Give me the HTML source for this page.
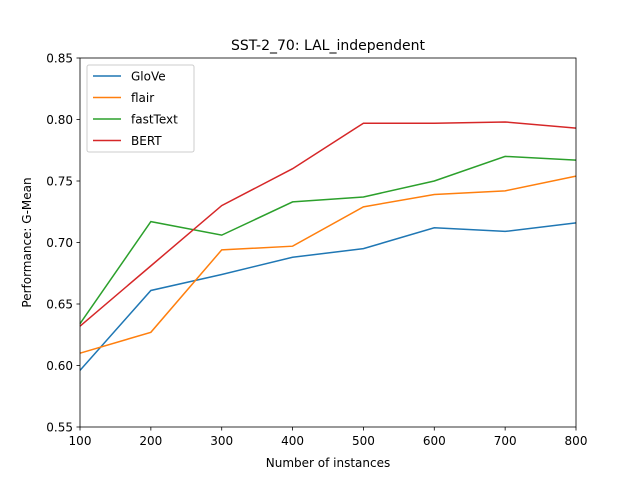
<!DOCTYPE html>
<html><head><meta charset="utf-8"><style>
body{margin:0;background:#fff}
svg{display:block;font-family:"DejaVu Sans","Liberation Sans",sans-serif}
</style></head><body>
<svg id="chart" width="640" height="480">
<rect width="640" height="480" fill="#fff"/>
<g id="plot"></g>
</svg>
<script>
const categories=[100,200,300,400,500,600,700,800];
const seriesNames=["GloVe","flair","fastText","BERT"];
const glove=[0.596,0.661,0.674,0.688,0.695,0.712,0.709,0.716];
const flair=[0.610,0.627,0.694,0.697,0.729,0.739,0.742,0.754];
const fasttext=[0.634,0.717,0.706,0.733,0.737,0.750,0.770,0.767];
const bert=[0.632,0.681,0.730,0.760,0.797,0.797,0.798,0.793];
const xTicks=[100,200,300,400,500,600,700,800];
const yTicks=[0.55,0.60,0.65,0.70,0.75,0.80,0.85];
const colors=["#1f77b4","#ff7f0e","#2ca02c","#d62728"];
const L=80,R=576,T=58,B=427;
const xs=v=>L+(v-100)/(800-100)*(R-L);
const ys=v=>B-(v-0.55)/(0.85-0.55)*(B-T);
const NS="http://www.w3.org/2000/svg";
const g=document.getElementById('plot');
function mk(tag,attrs,text){const e=document.createElementNS(NS,tag);for(const k in attrs)e.setAttribute(k,attrs[k]);if(text!==undefined)e.textContent=text;g.appendChild(e);return e;}
const data=[glove,flair,fasttext,bert];
data.forEach((s,i)=>{
 const p=mk('polyline',{points:s.map((v,j)=>xs(categories[j])+','+ys(v)).join(' '),fill:'none',stroke:colors[i],'stroke-width':1.5});
 
 
});
const fr=mk('rect',{x:L,y:T,width:R-L,height:B-T,fill:'none',stroke:'#000','stroke-width':0.8});


xTicks.forEach(v=>{
 mk('line',{x1:xs(v),x2:xs(v),y1:B,y2:B+3.5,stroke:'#000','stroke-width':0.8});
 const t=mk('text',{x:xs(v),y:B+18,'font-size':12,'text-anchor':'middle'},String(v));
 
 
});
yTicks.forEach(v=>{
 mk('line',{x1:L-3.5,x2:L,y1:ys(v),y2:ys(v),stroke:'#000','stroke-width':0.8});
 const t=mk('text',{x:L-7,y:ys(v)+4.5,'font-size':12,'text-anchor':'end'},v.toFixed(2));
 
 
});
const xt=mk('text',{x:(L+R)/2,y:467,'font-size':12,'text-anchor':'middle'},'Number of instances');


const yt=mk('text',{x:0,y:0,'font-size':12,'text-anchor':'middle',transform:'translate(31,'+((T+B)/2)+') rotate(-90)'},'Performance: G-Mean');


const ti=mk('text',{x:(L+R)/2,y:50,'font-size':14,'text-anchor':'middle'},'SST-2_70: LAL_independent');


const lg=mk('rect',{x:87,y:65,width:107,height:87,fill:'#fff',stroke:'#ccc','stroke-width':1,rx:2});


seriesNames.forEach((n,i)=>{
 const y=76+i*21.5;
 mk('line',{x1:93,x2:121,y1:y,y2:y,stroke:colors[i],'stroke-width':1.5});
 const t=mk('text',{x:131,y:y+4.5,'font-size':12},n);
 
 
});
</script>
</body></html>
